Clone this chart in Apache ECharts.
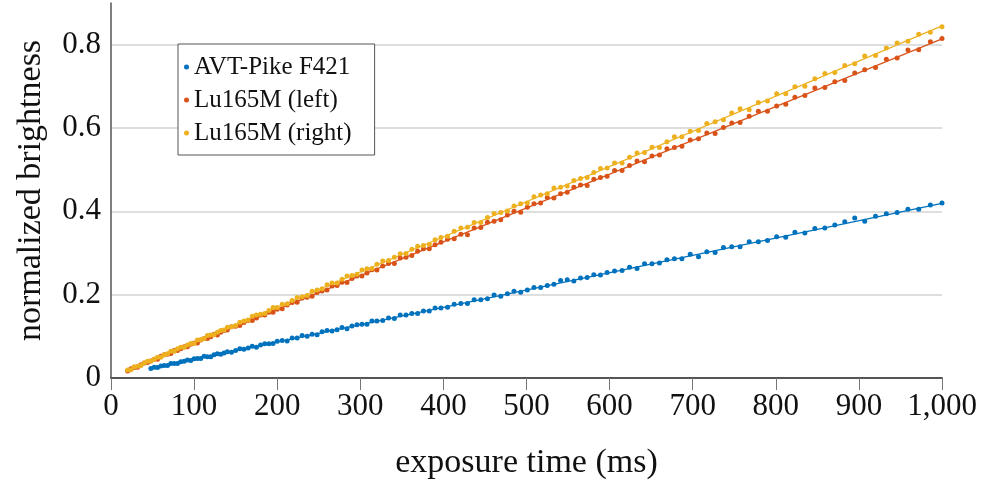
<!DOCTYPE html>
<html>
<head>
<meta charset="utf-8">
<script src="https://cdn.jsdelivr.net/npm/echarts@6/dist/echarts.min.js"></script>
<style>html,body{margin:0;padding:0;background:#fff;}#c{width:981px;height:485px;}</style>
</head>
<body>
<div id="c"></div>
<script>
// exposure times (ms)
var expTime = [20,24,28,32,36,40,44,48,52,56,60,64,68,72,76,80,84,88,92,96,100,
104,108,112,116,120,124,128,132,136,140,145,150,155,160,165,170,175,180,185,190,195,200,
206,212,218,224,230,236,242,248,254,260,266,272,278,284,290,296,302,308,314,320,327,334,341,348,355,362,369,376,383,390,397,
405,413,421,429,437,445,453,461,469,477,485,493,501,509,517,525,533,541,549,557,565,573,581,589,597,
606,615,624,633,642,651,660,669,678,687,697,707,717,727,737,747,757,768,779,790,801,812,823,835,847,859,871,883,895,907,920,933,946,959,972,986,1000];

// Lu165M (right)
var lu165Right = [0.019,0.020,0.027,0.028,0.030,0.036,0.040,0.041,0.045,0.050,0.050,0.056,0.058,0.064,0.064,0.070,0.074,0.074,0.079,0.083,0.083,
0.091,0.092,0.095,0.102,0.103,0.104,0.110,0.114,0.115,0.122,0.123,0.126,0.134,0.137,0.139,0.148,0.151,0.153,0.155,0.162,0.169,0.169,
0.177,0.178,0.186,0.193,0.195,0.198,0.208,0.211,0.214,0.224,0.228,0.228,0.237,0.245,0.246,0.249,0.259,0.262,0.263,0.273,0.281,0.282,0.290,0.298,0.299,0.309,0.316,0.318,0.321,0.332,0.337,
0.340,0.352,0.360,0.362,0.373,0.373,0.385,0.395,0.397,0.401,0.413,0.418,0.420,0.435,0.439,0.442,0.456,0.458,0.461,0.474,0.479,0.481,0.493,0.503,0.504,
0.516,0.516,0.530,0.540,0.541,0.554,0.553,0.567,0.579,0.579,0.592,0.594,0.611,0.615,0.620,0.636,0.646,0.644,0.661,0.665,0.682,0.682,0.699,0.700,0.718,0.731,0.733,0.750,0.754,0.773,0.774,0.792,0.804,0.808,0.825,0.830,0.843];

// Lu165M (left)
var lu165Left = [0.017,0.022,0.025,0.026,0.032,0.036,0.037,0.041,0.045,0.045,0.052,0.056,0.057,0.059,0.066,0.066,0.070,0.075,0.075,0.081,0.084,
0.084,0.091,0.095,0.095,0.099,0.105,0.103,0.110,0.114,0.115,0.123,0.124,0.126,0.133,0.138,0.138,0.144,0.151,0.151,0.158,0.158,0.165,
0.166,0.175,0.181,0.182,0.192,0.194,0.196,0.205,0.209,0.211,0.221,0.222,0.230,0.229,0.239,0.245,0.245,0.252,0.260,0.259,0.269,0.275,0.275,0.288,0.290,0.294,0.304,0.310,0.310,0.320,0.326,
0.333,0.334,0.345,0.344,0.360,0.361,0.374,0.376,0.380,0.391,0.400,0.398,0.410,0.418,0.420,0.433,0.432,0.442,0.446,0.458,0.463,0.462,0.477,0.481,0.484,
0.498,0.498,0.510,0.521,0.519,0.533,0.535,0.550,0.553,0.556,0.571,0.574,0.588,0.587,0.601,0.612,0.613,0.628,0.640,0.640,0.653,0.657,0.674,0.678,0.696,0.697,0.711,0.714,0.732,0.740,0.745,0.765,0.768,0.787,0.788,0.807,0.815];

// AVT-Pike F421 (starts at 48 ms)
var avtTime = expTime.slice(7);
var avtPike = [0.023,0.026,0.025,0.029,0.030,0.030,0.035,0.035,0.035,0.039,0.040,0.043,0.042,0.046,
0.047,0.047,0.052,0.051,0.051,0.056,0.058,0.057,0.060,0.063,0.062,0.066,0.070,0.069,0.072,0.076,0.074,0.079,0.082,0.082,0.083,0.088,
0.090,0.089,0.096,0.096,0.102,0.100,0.105,0.104,0.111,0.114,0.113,0.116,0.121,0.118,0.125,0.128,0.129,0.129,0.137,0.137,0.138,0.144,0.143,0.151,0.151,0.155,0.155,0.161,0.161,0.168,0.168,
0.170,0.177,0.179,0.179,0.188,0.188,0.190,0.199,0.196,0.202,0.208,0.206,0.211,0.217,0.217,0.222,0.225,0.234,0.236,0.233,0.240,0.241,0.248,0.247,0.253,
0.257,0.258,0.266,0.263,0.274,0.274,0.276,0.284,0.286,0.286,0.297,0.291,0.303,0.301,0.313,0.315,0.315,0.327,0.327,0.330,0.339,0.338,0.350,0.348,0.359,0.360,0.367,0.375,0.384,0.376,0.388,0.394,0.397,0.405,0.405,0.415,0.420];

// linear fits: [x0, x1] and [y0, y1]
var fitTimeLu = [20, 1000];
var fitLu165Right = [0.0179, 0.845];
var fitLu165Left = [0.0182, 0.814];
var fitTimeAvt = [48, 1000];
var fitAvtPike = [0.023, 0.419];

var names = ['AVT-Pike F421', 'Lu165M (left)', 'Lu165M (right)'];
var colors = ['#0072BD', '#D95319', '#EDB120'];
var xTicks = [0, 100, 200, 300, 400, 500, 600, 700, 800, 900, 1000];
var yTicks = [0, 0.2, 0.4, 0.6, 0.8];

function pairs(xs, ys) { return xs.map(function (x, i) { return [x, ys[i]]; }); }

var FONT = 'Liberation Serif';
var chart = echarts.init(document.getElementById('c'), null, {renderer: 'canvas'});

var scatterSets = [[avtTime, avtPike], [expTime, lu165Left], [expTime, lu165Right]];
var fitSets = [[fitTimeAvt, fitAvtPike], [fitTimeLu, fitLu165Left], [fitTimeLu, fitLu165Right]];
var series = [];
for (var i = 0; i < 3; i++) {
  series.push({
    name: names[i] + ' fit', type: 'line', data: pairs(fitSets[i][0], fitSets[i][1]),
    showSymbol: false, symbol: 'none', silent: true,
    lineStyle: {color: colors[i], width: 1.2}, z: 2
  });
}
for (var j = 0; j < 3; j++) {
  series.push({
    name: names[j], type: 'scatter', data: pairs(scatterSets[j][0], scatterSets[j][1]),
    symbol: 'circle', symbolSize: 5,
    itemStyle: {color: colors[j], opacity: 1}, z: 3
  });
}

chart.setOption({
  animation: false,
  backgroundColor: '#fff',
  textStyle: {fontFamily: FONT},
  grid: {left: 111, right: 39, top: 3, bottom: 104, containLabel: false},
  legend: {
    data: names, orient: 'vertical', left: 178, top: 44,
    icon: 'circle', itemWidth: 5, itemHeight: 5, itemGap: 7,
    padding: [10, 23, 9, 6],
    borderColor: '#555', borderWidth: 1, backgroundColor: '#fff',
    textStyle: {fontFamily: FONT, fontSize: 25, color: '#111', lineHeight: 26, padding: [0, 0, 0, 0]},
    selectedMode: false
  },
  xAxis: {
    type: 'value', min: xTicks[0], max: xTicks[xTicks.length - 1], interval: 100,
    name: 'exposure time (ms)', nameLocation: 'middle', nameGap: 68,
    nameTextStyle: {fontFamily: FONT, fontSize: 34, color: '#111'},
    axisLine: {lineStyle: {color: '#555', width: 2}},
    axisTick: {show: true, inside: false, length: 12, lineStyle: {color: '#777', width: 1}},
    axisLabel: {fontFamily: FONT, fontSize: 31, color: '#111', margin: 13},
    splitLine: {show: false}
  },
  yAxis: {
    type: 'value', min: 0, max: 0.9, interval: 0.2,
    name: 'normalized brightness', nameLocation: 'middle', nameGap: 63,
    nameTextStyle: {fontFamily: FONT, fontSize: 34, color: '#111'},
    axisLine: {show: true, lineStyle: {color: '#555', width: 1.5}},
    axisTick: {show: false},
    axisLabel: {fontFamily: FONT, fontSize: 31, color: '#111', margin: 10, showMaxLabel: false,
      formatter: function (v) { return yTicks.indexOf(Math.round(v * 10) / 10) >= 0 ? String(Math.round(v * 10) / 10) : ''; }},
    splitLine: {show: true, showMinLine: false, showMaxLine: false, lineStyle: {color: '#d3d3d3', width: 1.5}}
  },
  series: series
});
</script>
</body>
</html>
